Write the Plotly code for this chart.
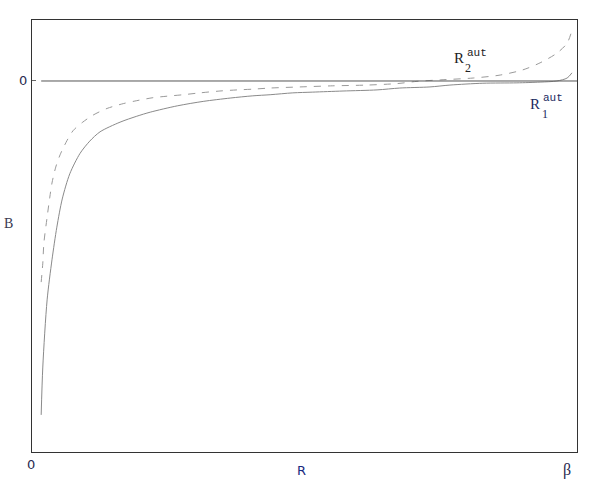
import plotly.graph_objects as go

# R1^aut (solid) curve
x_r1 = [0.017, 0.020, 0.028, 0.037, 0.046, 0.056, 0.070, 0.089, 0.107, 0.126,
        0.163, 0.194, 0.219, 0.269, 0.317, 0.367, 0.409, 0.441, 0.483, 0.520,
        0.576, 0.639, 0.681, 0.737, 0.774, 0.835, 0.898, 0.941, 0.972, 0.991, 1.000]
y_r1 = [-0.900, -0.771, -0.590, -0.482, -0.394, -0.318, -0.250, -0.195, -0.162, -0.137,
        -0.111, -0.095, -0.084, -0.067, -0.055, -0.046, -0.040, -0.037, -0.032, -0.030,
        -0.027, -0.024, -0.019, -0.016, -0.011, -0.006, -0.005, -0.003, 0.000, 0.008, 0.022]

# R2^aut (dashed) curve
x_r2 = [0.017, 0.020, 0.022, 0.028, 0.033, 0.037, 0.044, 0.052, 0.065, 0.076,
        0.093, 0.113, 0.139, 0.169, 0.194, 0.224, 0.250, 0.280, 0.311, 0.348,
        0.380, 0.409, 0.441, 0.496, 0.557, 0.620, 0.676, 0.713, 0.756, 0.817,
        0.867, 0.909, 0.941, 0.972, 0.991, 1.000]
y_r2 = [-0.542, -0.491, -0.437, -0.367, -0.313, -0.275, -0.232, -0.199, -0.160, -0.134,
        -0.112, -0.092, -0.074, -0.061, -0.053, -0.045, -0.041, -0.037, -0.032, -0.027,
        -0.024, -0.022, -0.019, -0.016, -0.013, -0.011, -0.007, -0.001, 0.003, 0.008,
        0.016, 0.030, 0.049, 0.075, 0.102, 0.137]

x_range = [0, 1.0093]
y_range = [-1.0, 0.1644]

fig = go.Figure()
fig.add_trace(go.Scatter(x=x_r1, y=y_r1, mode="lines",
                         line=dict(color="#8a8a8a", width=1, shape="spline", smoothing=0.8),
                         showlegend=False, hoverinfo="skip"))
fig.add_trace(go.Scatter(x=x_r2, y=y_r2, mode="lines",
                         line=dict(color="#9a9a9a", width=1, dash="7px,7px",
                                   shape="spline", smoothing=0.8),
                         showlegend=False, hoverinfo="skip"))

# zero line
fig.add_shape(type="line", xref="x", yref="y", x0=0.017, x1=x_range[1], y0=0, y1=0,
              line=dict(color="#555555", width=1))

serif = "Liberation Serif, Times New Roman, serif"
mono = "Liberation Mono, Courier New, monospace"
sans = "DejaVu Sans, Arial, sans-serif"
ann = []
# curve labels
ann += [
    dict(x=0.791, y=0.061, text="R", font=dict(family=serif, size=15, color="#222")),
    dict(x=0.824, y=0.076, text="aut", font=dict(family=mono, size=11, color="#222")),
    dict(x=0.808, y=0.035, text="2", font=dict(family=serif, size=12, color="#222")),
    dict(x=0.932, y=-0.062, text="R", font=dict(family=serif, size=15, color="#1a2a60")),
    dict(x=0.965, y=-0.047, text="aut", font=dict(family=mono, size=11, color="#1a2a60")),
    dict(x=0.950, y=-0.089, text="1", font=dict(family=serif, size=12, color="#1a2a60")),
]
for a in ann:
    a.update(xref="x", yref="y", showarrow=False, xanchor="center", yanchor="middle")

outer = [
    dict(x=-0.0165, y=0, xref="paper", yref="y", text="0",
         font=dict(family=sans, size=13, color="#2a2a50")),
    dict(x=-0.0018, y=-0.028, xref="paper", yref="paper", text="0",
         font=dict(family=sans, size=13, color="#2a2a50")),
    dict(x=0.5, y=-0.0417, xref="x", yref="paper", text="R",
         font=dict(family=sans, size=13, color="#1a2a80")),
    dict(x=0.991, y=-0.0417, xref="x", yref="paper", text="β",
         font=dict(family=serif, size=16, color="#2a2a50")),
    dict(x=-0.044, y=-0.383, xref="paper", yref="y", text="B",
         font=dict(family=serif, size=14, color="#3a3a50")),
]
for a in outer:
    a.update(showarrow=False, xanchor="center", yanchor="middle")

fig.update_layout(
    width=600, height=491,
    margin=dict(l=32, r=23, t=20, b=39),
    paper_bgcolor="white", plot_bgcolor="white",
    annotations=ann + outer,
    xaxis=dict(range=x_range, showgrid=False, zeroline=False, showticklabels=False,
               ticks="", showline=True, mirror=True, linecolor="#333", linewidth=1),
    yaxis=dict(range=y_range, showgrid=False, zeroline=False, showticklabels=False,
               tickvals=[0], ticks="inside", ticklen=4, tickcolor="#666",
               showline=True, mirror=True, linecolor="#333", linewidth=1),
)

fig.write_html("out.html", config={"displayModeBar": False},
               post_script="document.body.style.margin='0';document.body.style.padding='0';")
